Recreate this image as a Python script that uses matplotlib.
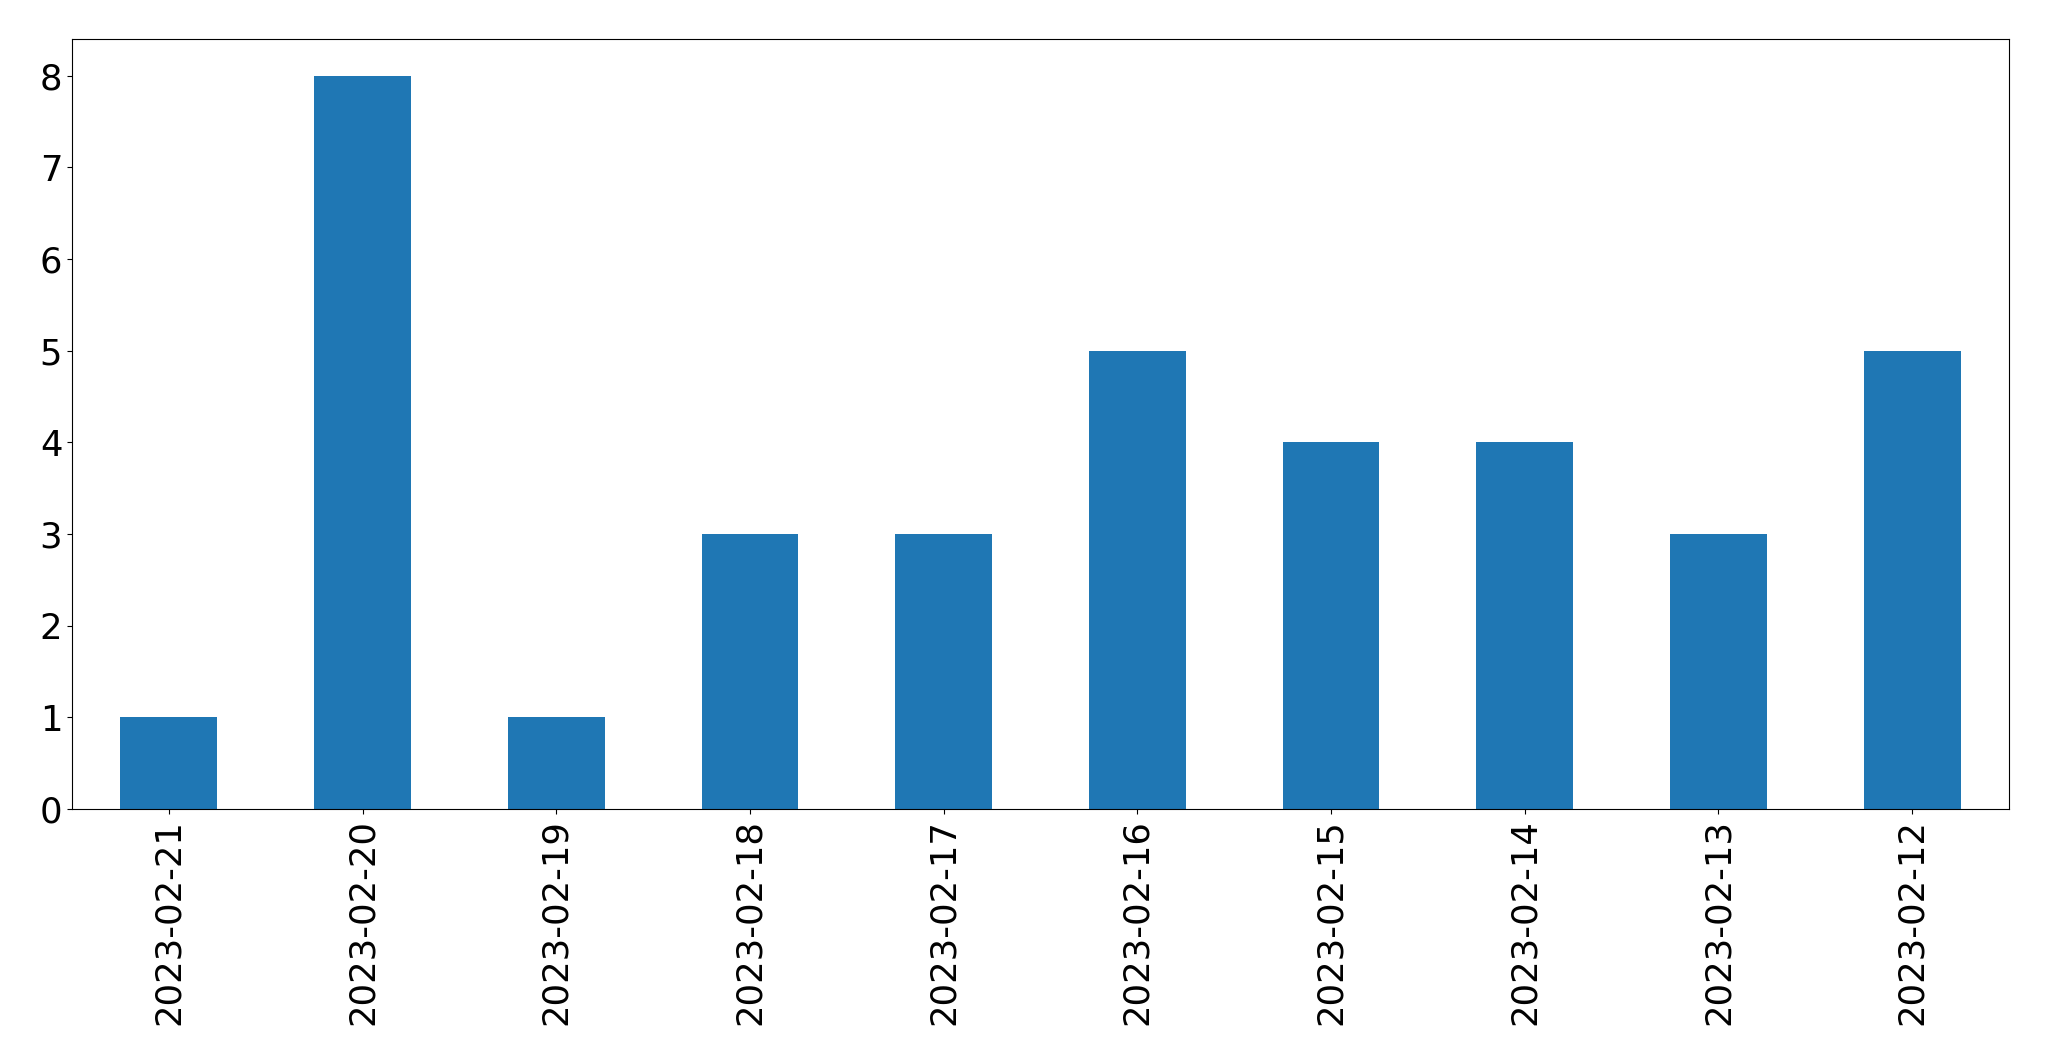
import matplotlib
matplotlib.use("Agg")
import matplotlib.pyplot as plt
import pandas as pd

dates = ["2023-02-21", "2023-02-20", "2023-02-19", "2023-02-18", "2023-02-17",
         "2023-02-16", "2023-02-15", "2023-02-14", "2023-02-13", "2023-02-12"]
counts = [1, 8, 1, 3, 3, 5, 4, 4, 3, 5]

s = pd.Series(counts, index=dates)

fig, ax = plt.subplots(figsize=(20.49, 10.61), dpi=100)
s.plot(kind="bar", ax=ax, color="#1f77b4", fontsize=25.5)
# axes box: x 72..2009, y 39..809 px
fig.subplots_adjust(left=72/2049, right=2009/2049, top=1-39/1061, bottom=1-809/1061)
fig.savefig("out.png", dpi=100)
